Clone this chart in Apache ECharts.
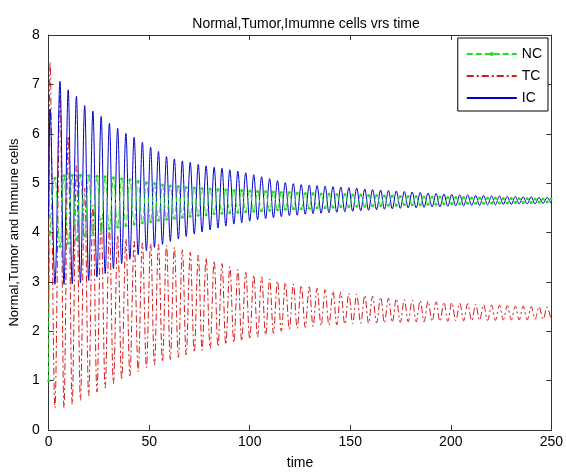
<!DOCTYPE html>
<html>
<head>
<meta charset="utf-8">
<script src="https://cdn.jsdelivr.net/npm/echarts@6/dist/echarts.min.js"></script>
<style>
html,body{margin:0;padding:0;background:#fff;}
#c{width:566px;height:475px;}
</style>
</head>
<body>
<div id="c"></div>
<script>
// Initial transient (time, NC, TC, IC)
const startTime = [0, 0.7, 3.1];
const startNC   = [1.0, 4.0, 5.1];
const startTC   = [2.4, 7.45, 0.45];
const startIC   = [4.3, 6.5, 2.95];

// Times of the oscillation crests (IC peaks) and troughs
const peakTime = [5.6, 9.7, 13.8, 17.9, 22.0, 26.1, 30.2, 34.3, 38.4, 42.5, 46.6, 50.7,
  54.6, 58.6, 62.5, 66.5, 70.4, 74.4, 78.3, 82.3, 86.2, 90.1, 94.1, 98.0, 102.0, 105.9,
  109.9, 113.8, 117.7, 121.7, 125.6, 129.6, 133.5, 137.5, 141.4, 145.3, 149.3, 153.2,
  157.2, 161.1, 165.1, 169.0, 172.9, 176.9, 180.8, 184.8, 188.7, 192.7, 196.6, 200.5,
  204.5, 208.4, 212.4, 216.3, 220.3, 224.2, 228.1, 232.1, 236.0, 240.0, 243.9, 247.9];
const troughTime = [7.6, 11.7, 15.8, 19.9, 24.0, 28.1, 32.2, 36.3, 40.4, 44.5, 48.6, 52.6,
  56.6, 60.5, 64.5, 68.4, 72.4, 76.3, 80.3, 84.2, 88.1, 92.1, 96.0, 100.0, 103.9, 107.9,
  111.8, 115.7, 119.7, 123.6, 127.6, 131.5, 135.5, 139.4, 143.3, 147.3, 151.2, 155.2,
  159.1, 163.1, 167.0, 170.9, 174.9, 178.8, 182.8, 186.7, 190.7, 194.6, 198.5, 202.5,
  206.4, 210.4, 214.3, 218.3, 222.2, 226.1, 230.1, 234.0, 238.0, 241.9, 245.9, 249.8];

// IC (immune cells)
const icPeak = [7.06, 6.89, 6.76, 6.57, 6.46, 6.35, 6.21, 6.11, 6.01, 5.93, 5.83, 5.73,
  5.64, 5.54, 5.49, 5.45, 5.42, 5.38, 5.35, 5.32, 5.30, 5.27, 5.24, 5.21, 5.17, 5.13,
  5.09, 5.05, 5.01, 4.99, 4.97, 4.96, 4.95, 4.94, 4.93, 4.92, 4.91, 4.90, 4.88, 4.87,
  4.86, 4.85, 4.84, 4.83, 4.82, 4.81, 4.80, 4.79, 4.78, 4.77, 4.76, 4.76, 4.75, 4.75,
  4.74, 4.74, 4.73, 4.73, 4.72, 4.72, 4.71, 4.71];
const icTrough = [2.95, 2.96, 2.98, 3.03, 3.10, 3.17, 3.27, 3.37, 3.46, 3.55, 3.63, 3.70,
  3.76, 3.82, 3.87, 3.92, 3.97, 4.01, 4.05, 4.09, 4.13, 4.17, 4.20, 4.23, 4.26, 4.28,
  4.30, 4.32, 4.34, 4.35, 4.37, 4.38, 4.39, 4.40, 4.41, 4.42, 4.43, 4.44, 4.45, 4.46,
  4.47, 4.48, 4.49, 4.50, 4.50, 4.51, 4.52, 4.52, 4.53, 4.54, 4.54, 4.55, 4.55, 4.56,
  4.56, 4.57, 4.57, 4.58, 4.58, 4.58, 4.59, 4.59];

// TC (tumor cells)
const tcPeak = [6.80, 5.95, 5.35, 4.90, 4.55, 4.28, 4.08, 3.95, 3.87, 3.82, 3.79, 3.77,
  3.76, 3.74, 3.70, 3.65, 3.60, 3.54, 3.49, 3.43, 3.37, 3.31, 3.25, 3.19, 3.14, 3.10,
  3.06, 3.02, 2.99, 2.96, 2.93, 2.90, 2.87, 2.84, 2.81, 2.79, 2.77, 2.75, 2.73, 2.71,
  2.69, 2.67, 2.66, 2.64, 2.63, 2.62, 2.61, 2.60, 2.59, 2.58, 2.57, 2.56, 2.55, 2.54,
  2.53, 2.53, 2.52, 2.51, 2.51, 2.50, 2.50, 2.49];
const tcTrough = [0.45, 0.52, 0.60, 0.69, 0.77, 0.85, 0.94, 1.02, 1.10, 1.18, 1.26, 1.32,
  1.38, 1.43, 1.47, 1.52, 1.57, 1.61, 1.65, 1.69, 1.73, 1.77, 1.80, 1.84, 1.88, 1.92,
  1.96, 2.00, 2.04, 2.06, 2.08, 2.10, 2.11, 2.12, 2.13, 2.14, 2.15, 2.16, 2.16, 2.17,
  2.17, 2.18, 2.18, 2.19, 2.19, 2.19, 2.20, 2.20, 2.20, 2.21, 2.21, 2.21, 2.22, 2.22,
  2.22, 2.23, 2.23, 2.23, 2.23, 2.24, 2.24, 2.24];

// NC (normal cells): values at the crest times and at the trough times
const ncAtPeak = [3.72, 3.78, 3.86, 3.93, 3.99, 4.04, 4.08, 4.11, 4.14, 4.17, 4.20, 4.22,
  4.25, 4.27, 4.29, 4.31, 4.33, 4.35, 4.36, 4.38, 4.39, 4.40, 4.41, 4.42, 4.43, 4.44,
  4.45, 4.46, 4.47, 4.48, 4.48, 4.49, 4.50, 4.50, 4.51, 4.52, 4.52, 4.53, 4.53, 4.54,
  4.54, 4.55, 4.55, 4.56, 4.56, 4.56, 4.57, 4.57, 4.58, 4.58, 4.58, 4.59, 4.59, 4.59,
  4.60, 4.60, 4.60, 4.61, 4.61, 4.61, 4.62, 4.62];
const ncAtTrough = [5.15, 5.16, 5.16, 5.15, 5.14, 5.13, 5.11, 5.09, 5.07, 5.04, 5.01, 4.99,
  4.96, 4.94, 4.93, 4.91, 4.90, 4.89, 4.88, 4.87, 4.86, 4.85, 4.85, 4.84, 4.83, 4.83,
  4.82, 4.81, 4.81, 4.80, 4.79, 4.79, 4.78, 4.78, 4.77, 4.77, 4.76, 4.76, 4.75, 4.75,
  4.74, 4.74, 4.73, 4.73, 4.73, 4.72, 4.72, 4.72, 4.71, 4.71, 4.71, 4.70, 4.70, 4.70,
  4.70, 4.69, 4.69, 4.69, 4.69, 4.68, 4.68, 4.68];

const xTicks = [0, 50, 100, 150, 200, 250];
const yTicks = [0, 1, 2, 3, 4, 5, 6, 7, 8];

function build(start, atPeak, atTrough) {
  const out = [];
  for (let i = 0; i < startTime.length; i++) out.push([startTime[i], start[i]]);
  for (let i = 0; i < peakTime.length; i++) {
    out.push([peakTime[i], atPeak[i]]);
    out.push([troughTime[i], atTrough[i]]);
  }
  return out;
}
const ncData = build(startNC, ncAtPeak, ncAtTrough);
const tcData = build(startTC, tcPeak, tcTrough);
const icData = build(startIC, icPeak, icTrough);

const FONT = 'Liberation Sans, Arial, sans-serif';
const chart = echarts.init(document.getElementById('c'), null, {renderer: 'canvas'});
const axisCommon = {
  axisLine: {show: true, onZero: false, lineStyle: {color: '#333', width: 1}},
  axisTick: {show: true, inside: true, length: 5, lineStyle: {color: '#333'}},
  splitLine: {show: false}
};
chart.setOption({
  animation: false,
  backgroundColor: '#fff',
  title: {
    text: 'Normal,Tumor,Imumne cells vrs time',
    left: 301, top: 12, textAlign: 'center',
    textStyle: {fontFamily: FONT, fontSize: 14, fontWeight: 'normal', color: '#000'}
  },
  legend: {
    orient: 'vertical', right: 18, top: 38,
    data: [
      {name: 'NC'},
      {name: 'TC', itemStyle: {opacity: 0}},
      {name: 'IC', itemStyle: {opacity: 0}}
    ],
    itemWidth: 50, itemHeight: 5, itemGap: 8,
    borderColor: '#000', borderWidth: 1, padding: [9, 6, 6, 8],
    backgroundColor: '#fff',
    textStyle: {fontFamily: FONT, fontSize: 14, color: '#000'}
  },
  grid: {left: 47, right: 11, top: 35, bottom: 41, containLabel: false},
  xAxis: [
    Object.assign({}, axisCommon, {
      type: 'value', min: xTicks[0], max: xTicks[xTicks.length - 1], interval: 50,
      position: 'bottom',
      name: 'time', nameLocation: 'middle', nameGap: 26,
      nameTextStyle: {fontFamily: FONT, fontSize: 14, color: '#000'},
      axisLabel: {fontFamily: FONT, fontSize: 14, color: '#000', margin: 5}
    }),
    Object.assign({}, axisCommon, {
      type: 'value', min: xTicks[0], max: xTicks[xTicks.length - 1], interval: 50,
      position: 'top', axisLabel: {show: false}
    })
  ],
  yAxis: [
    Object.assign({}, axisCommon, {
      type: 'value', min: yTicks[0], max: yTicks[yTicks.length - 1], interval: 1,
      position: 'left',
      name: 'Normal,Tumor and Immune cells', nameLocation: 'middle', nameGap: 25,
      nameRotate: 90,
      nameTextStyle: {fontFamily: FONT, fontSize: 13, color: '#000'},
      axisLabel: {fontFamily: FONT, fontSize: 14, color: '#000', margin: 9}
    }),
    Object.assign({}, axisCommon, {
      type: 'value', min: yTicks[0], max: yTicks[yTicks.length - 1], interval: 1,
      position: 'right', axisLabel: {show: false}
    })
  ],
  series: [
    {
      name: 'TC', type: 'line', data: tcData, smooth: 0.35, z: 2,
      symbol: 'none',
      lineStyle: {color: '#d81818', width: 1, type: [7, 3, 2, 3]},
      itemStyle: {color: '#d81818'}
    },
    {
      name: 'IC', type: 'line', data: icData, smooth: 0.35, z: 3,
      symbol: 'none',
      lineStyle: {color: '#0000cc', width: 1, type: 'solid'},
      itemStyle: {color: '#0000cc'}
    },
    {
      name: 'NC', type: 'line', data: ncData, smooth: 0.35, z: 4,
      symbol: 'circle', symbolSize: 3, showAllSymbol: true,
      lineStyle: {color: '#22dd22', width: 1, type: [6, 3]},
      itemStyle: {color: '#22dd22'}
    }
  ]
});
</script>
</body>
</html>
